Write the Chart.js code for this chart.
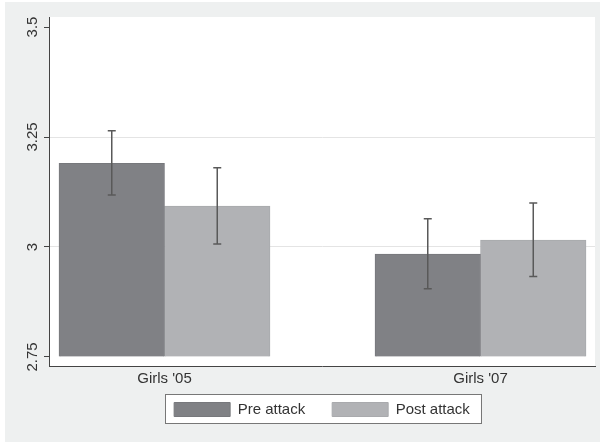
<!DOCTYPE html>
<html>
<head>
<meta charset="utf-8">
<script src="https://cdn.jsdelivr.net/npm/chart.js@4"></script>
<style>
  body { margin: 0; background: #fff; }
  canvas { display: block; }
</style>
</head>
<body>
<canvas id="attackChart" width="600" height="442"></canvas>
<script>
// Values
const categories = ["Girls '05", "Girls '07"];
const seriesNames = ['Pre attack', 'Post attack'];
const preMeans = [3.190, 2.984];
const preLow = [3.118, 2.905];
const preHigh = [3.264, 3.064];
const postMeans = [3.093, 3.016];
const postLow = [3.007, 2.933];
const postHigh = [3.180, 3.100];
const yTicks = [2.75, 3, 3.25, 3.5];
const barBase = 2.75;

const FONT = '"Liberation Sans", Arial, sans-serif';
const TEXT = '#333';

// light grey page, white plot region
const backdrop = {
  id: 'backdrop',
  afterLayout(chart) {
    // pull the legend up so it sits closer to the category labels
    chart.legend.top -= 13;
    chart.legend.bottom -= 13;
  },
  beforeDraw(chart) {
    const ctx = chart.ctx;
    const a = chart.chartArea;
    ctx.save();
    ctx.fillStyle = '#fff';
    ctx.fillRect(0, 0, chart.width, chart.height);
    ctx.fillStyle = '#eef0f0';
    ctx.fillRect(5, 2, chart.width - 5, chart.height - 2);
    ctx.fillStyle = '#fff';
    ctx.fillRect(a.left, a.top, a.right - a.left, a.bottom - a.top);

    // frame around the legend
    const boxes = chart.legend.legendHitBoxes;
    if (boxes && boxes.length) {
      const first = boxes[0];
      const last = boxes[boxes.length - 1];
      const x0 = first.left - 9;
      const x1 = last.left + last.width + 11;
      const y0 = first.top - 8;
      const y1 = first.top + 21;
      ctx.fillStyle = '#fff';
      ctx.fillRect(x0, y0, x1 - x0, y1 - y0);
      ctx.strokeStyle = '#777';
      ctx.lineWidth = 1;
      ctx.strokeRect(Math.round(x0) + 0.5, Math.round(y0) + 0.5, Math.round(x1 - x0), Math.round(y1 - y0));
    }
    ctx.restore();
  }
};

// confidence intervals on each bar
const errorBars = {
  id: 'errorBars',
  afterDatasetsDraw(chart) {
    const ctx = chart.ctx;
    const y = chart.scales.y;
    const ranges = [[preLow, preHigh], [postLow, postHigh]];
    ctx.save();
    ctx.strokeStyle = '#595959';
    ctx.lineWidth = 1.5;
    chart.data.datasets.forEach((ds, di) => {
      chart.getDatasetMeta(di).data.forEach((bar, i) => {
        const yl = y.getPixelForValue(ranges[di][0][i]);
        const yh = y.getPixelForValue(ranges[di][1][i]);
        ctx.beginPath();
        ctx.moveTo(bar.x, yl); ctx.lineTo(bar.x, yh);
        ctx.moveTo(bar.x - 4, yl); ctx.lineTo(bar.x + 4, yl);
        ctx.moveTo(bar.x - 4, yh); ctx.lineTo(bar.x + 4, yh);
        ctx.stroke();
      });
    });
    ctx.restore();
  }
};

const toPoints = vals => vals.map((v, i) => ({ x: i, y: v }));

new Chart(document.getElementById('attackChart'), {
  type: 'bar',
  data: {
    datasets: [{
      label: seriesNames[0],
      data: toPoints(preMeans),
      backgroundColor: '#808185',
      borderColor: '#77787c',
      borderWidth: 1
    }, {
      label: seriesNames[1],
      data: toPoints(postMeans),
      backgroundColor: '#b1b2b5',
      borderColor: '#a9aaad',
      borderWidth: 1
    }]
  },
  options: {
    responsive: false,
    animation: false,
    base: barBase,
    barThickness: 105.5,
    layout: { padding: { left: 5, right: 5, top: 17, bottom: 2 } },
    scales: {
      x: {
        type: 'linear',
        offset: false,
        min: -0.3655,
        max: 1.3623,
        afterBuildTicks: scale => { scale.ticks = categories.map((c, i) => ({ value: i })); },
        afterFit: scale => { scale.height = 22; },
        grid: { display: false, drawTicks: false },
        border: { display: true, color: '#444', width: 1 },
        ticks: {
          padding: 4,
          color: TEXT,
          font: { family: FONT, size: 15 },
          callback: v => categories[v]
        }
      },
      y: {
        min: 2.7295,
        max: 3.5228,
        afterBuildTicks: scale => { scale.ticks = yTicks.map(v => ({ value: v })); },
        afterFit: scale => { scale.width = 44; },
        grid: {
          color: c => (c.tick && (c.tick.value === 3 || c.tick.value === 3.25)) ? '#e4e4e4' : 'rgba(0,0,0,0)',
          tickColor: '#444',
          tickLength: 5
        },
        border: { display: true, color: '#444', width: 1 },
        ticks: {
          minRotation: 90,
          maxRotation: 90,
          crossAlign: 'center',
          padding: -3,
          color: TEXT,
          font: { family: FONT, size: 15 },
          callback: v => String(v)
        }
      }
    },
    plugins: {
      legend: {
        position: 'bottom',
        fullSize: false,
        labels: {
          boxWidth: 56,
          boxHeight: 14,
          padding: 27,
          color: TEXT,
          font: { family: FONT, size: 15 }
        }
      },
      tooltip: { enabled: false }
    }
  },
  plugins: [backdrop, errorBars]
});
</script>
</body>
</html>
